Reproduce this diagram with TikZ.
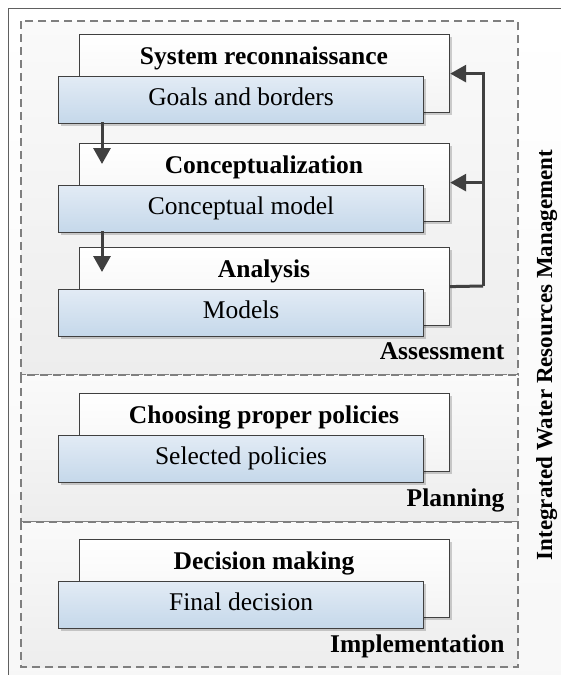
\documentclass[tikz,border=0pt]{standalone}
\usepackage{fontspec}
\setmainfont{Liberation Serif}
\usetikzlibrary{arrows.meta,shadows}
\definecolor{boxline}{HTML}{404040}
\definecolor{arrowcol}{HTML}{404040}
\definecolor{blueTop}{HTML}{E2EBF5}
\definecolor{blueBot}{HTML}{C5D8EA}
\definecolor{dashcol}{HTML}{7F7F7F}
\definecolor{regTop}{HTML}{FAFAFA}
\definecolor{regBot}{HTML}{EDEDED}
\begin{document}
\begin{tikzpicture}[x=1pt,y=-1pt,
  wbox/.style={draw=boxline, line width=1.2pt, top color=white, bottom color=gray!9,
    minimum width=370pt, minimum height=78pt, anchor=north west, inner sep=0pt,
    drop shadow={shadow xshift=2.5pt,shadow yshift=-2.5pt,opacity=0.18,fill=black}},
  bbox/.style={draw=boxline, line width=1.2pt, top color=blueTop, bottom color=blueBot,
    minimum width=365pt, minimum height=46.5pt, anchor=north west, inner sep=0pt,
    text height=17pt, text depth=5pt, font=\fontsize{25.5}{30}\selectfont,
    drop shadow={shadow xshift=2.5pt,shadow yshift=-2.5pt,opacity=0.18,fill=black}},
  titletext/.style={anchor=base, font=\fontsize{25.5}{30}\selectfont\bfseries},
  phaselabel/.style={anchor=base east, font=\fontsize{25.5}{30}\selectfont\bfseries},
  region/.style={draw=dashcol, line width=1.2pt, dash pattern=on 8pt off 5pt,
    top color=regTop, bottom color=regBot},
  conn/.style={draw=arrowcol, line width=3pt, -{Triangle[length=16pt,width=17pt]}},
  fbline/.style={draw=arrowcol, line width=3pt}
]
\useasboundingbox (0,0) rectangle (561,675);
\clip (0,0) rectangle (561,675);
\fill[white] (0,0) rectangle (561,675);
% outer frame
\path[draw=gray!75!black, line width=1pt, top color=white, bottom color=gray!6]
  (8,8) rectangle (570,684);
% regions
\path[region] (21,21) rectangle (518,375);
\path[region] (21,375) rectangle (518,522);
\path[region] (21,522) rectangle (518,667);

% blocks
\node[wbox] (w1) at (79,34) {};
\node[titletext] (t1) at (264,64) {System reconnaissance};
\node[bbox] (b1) at (58,76) {Goals and borders};

\node[wbox] (w2) at (79,143) {};
\node[titletext] (t2) at (264,173) {Conceptualization};
\node[bbox] (b2) at (58,185) {Conceptual model};

\node[wbox] (w3) at (79,247) {};
\node[titletext] (t3) at (264,277) {Analysis};
\node[bbox] (b3) at (58,289) {Models};

\node[wbox] (w4) at (79,393) {};
\node[titletext] (t4) at (264,423) {Choosing proper policies};
\node[bbox] (b4) at (58,435) {Selected policies};

\node[wbox] (w5) at (79,539) {};
\node[titletext] (t5) at (264,569) {Decision making};
\node[bbox] (b5) at (58,581) {Final decision};

% phase labels
\node[phaselabel] (la) at (508,359) {Assessment};
\node[phaselabel] (lp) at (508,506) {Planning};
\node[phaselabel] (li) at (508,652) {Implementation};
\node[anchor=base, rotate=90, font=\fontsize{23}{28}\selectfont\bfseries] (vt) at (552,355)
  {Integrated Water Resources Management};

% down arrows
\coordinate (a1s) at (102,122);
\coordinate (a1e) at (102,164);
\coordinate (a2s) at (102,231);
\coordinate (a2e) at (102,272);
\draw[conn] (a1s) -- (a1e);
\draw[conn] (a2s) -- (a2e);

% feedback
\coordinate (fbx) at (483,286);
\draw[fbline] (w3.east) -- (fbx);
\draw[conn] (fbx) |- (w1.east);
\draw[conn] (w2.east -| fbx) -- (w2.east);
\end{tikzpicture}
\end{document}
